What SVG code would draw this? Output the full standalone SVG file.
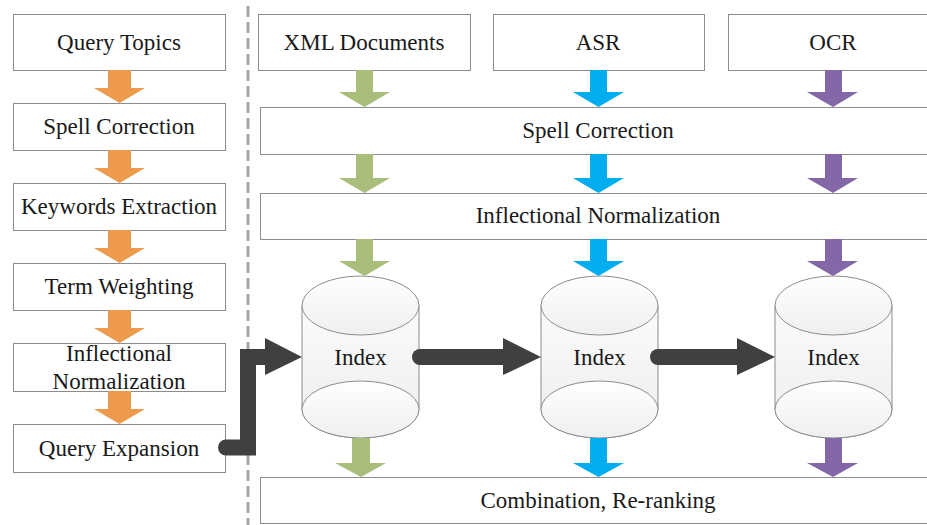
<svg xmlns="http://www.w3.org/2000/svg" width="927" height="525" viewBox="0 0 927 525">
  <defs>
    <linearGradient id="cylFill" x1="0" y1="0" x2="0" y2="1">
      <stop offset="0" stop-color="#fbfbfb"/>
      <stop offset="1" stop-color="#ececec"/>
    </linearGradient>
    <linearGradient id="capFill" x1="0" y1="0" x2="0" y2="1">
      <stop offset="0" stop-color="#ffffff"/>
      <stop offset="1" stop-color="#efefef"/>
    </linearGradient>
  </defs>
  <style>
    .box { fill: #ffffff; stroke: #8c8c8c; stroke-width: 1; }
    .lbl { font-family: Liberation Serif, Times New Roman, Tinos, Noto Serif, DejaVu Serif, serif; font-size: 23px; fill: #1a1a1a; text-anchor: middle; }
    .cyl { fill: url(#cylFill); stroke: #8c8c8c; stroke-width: 1; }
    .cap { fill: url(#capFill); stroke: #8c8c8c; stroke-width: 1; }
    .orange { fill: #ee9a4d; }
    .green { fill: #a9be7b; }
    .blue { fill: #00aeef; }
    .purple { fill: #8467a6; }
    .flow { fill: none; stroke: #404040; stroke-width: 16; stroke-linecap: round; stroke-linejoin: miter; }
    .head { fill: #404040; }
    .divider { stroke: #a6a6a6; stroke-width: 3; stroke-dasharray: 11 5; }
  </style>

  <rect width="927" height="525" fill="#ffffff"/>

  <!-- divider between query side and document side -->
  <line class="divider" x1="248" y1="6" x2="248" y2="525"/>

  <!-- query processing chain -->
  <g id="query-topics"><rect class="box" x="13.5" y="14.5" width="212" height="56"/><text class="lbl" x="119" y="50">Query Topics</text></g>
  <g id="q-spell-correction"><rect class="box" x="13.5" y="103.5" width="212" height="47"/><text class="lbl" x="119" y="134">Spell Correction</text></g>
  <g id="keywords-extraction"><rect class="box" x="13.5" y="183.5" width="212" height="47"/><text class="lbl" x="119" y="214">Keywords Extraction</text></g>
  <g id="term-weighting"><rect class="box" x="13.5" y="263.5" width="212" height="47"/><text class="lbl" x="119" y="294">Term Weighting</text></g>
  <g id="q-inflectional-normalization"><rect class="box" x="13.5" y="343.5" width="212" height="48"/><text class="lbl" x="119" y="361">Inflectional</text><text class="lbl" x="119" y="389">Normalization</text></g>
  <g id="query-expansion"><rect class="box" x="13.5" y="424.5" width="212" height="48"/><text class="lbl" x="119" y="456">Query Expansion</text></g>

  <!-- document sources -->
  <g id="xml-documents"><rect class="box" x="258.5" y="14.5" width="212" height="56"/><text class="lbl" x="364" y="50">XML Documents</text></g>
  <g id="asr"><rect class="box" x="493.5" y="14.5" width="211" height="56"/><text class="lbl" x="598" y="50">ASR</text></g>
  <g id="ocr"><rect class="box" x="728.5" y="14.5" width="210" height="56"/><text class="lbl" x="833" y="50">OCR</text></g>

  <!-- shared document stages -->
  <g id="d-spell-correction"><rect class="box" x="260.5" y="107.5" width="680" height="47"/><text class="lbl" x="598" y="138">Spell Correction</text></g>
  <g id="d-inflectional-normalization"><rect class="box" x="260.5" y="193.5" width="680" height="46"/><text class="lbl" x="598" y="223">Inflectional Normalization</text></g>
  <g id="combination"><rect class="box" x="260.5" y="477.5" width="680" height="46"/><text class="lbl" x="598" y="508">Combination, Re-ranking</text></g>

  <!-- indexes -->
  <g id="index-xml">
    <path class="cyl" d="M 302 305.5 V 409.5 A 58.5 28.5 0 0 0 419 409.5 V 305.5 Z"/>
    <ellipse class="cap" cx="360.5" cy="409.5" rx="58.5" ry="28.5"/>
    <ellipse class="cap" cx="360.5" cy="305.5" rx="58.5" ry="29.5"/>
    <text class="lbl" x="360.5" y="365">Index</text>
  </g>
  <g id="index-asr">
    <path class="cyl" d="M 541 305.5 V 409.5 A 58.5 28.5 0 0 0 658 409.5 V 305.5 Z"/>
    <ellipse class="cap" cx="599.5" cy="409.5" rx="58.5" ry="28.5"/>
    <ellipse class="cap" cx="599.5" cy="305.5" rx="58.5" ry="29.5"/>
    <text class="lbl" x="599.5" y="365">Index</text>
  </g>
  <g id="index-ocr">
    <path class="cyl" d="M 775 305.5 V 409.5 A 58.5 28.5 0 0 0 892 409.5 V 305.5 Z"/>
    <ellipse class="cap" cx="833.5" cy="409.5" rx="58.5" ry="28.5"/>
    <ellipse class="cap" cx="833.5" cy="305.5" rx="58.5" ry="29.5"/>
    <text class="lbl" x="833.5" y="365">Index</text>
  </g>

  <g id="connectors">
    <!-- query chain block arrows -->
    <g class="orange">
      <polygon points="108,70 131,70 131,88 145,88 119.5,103 94,88 108,88"/>
      <polygon points="108,150 131,150 131,168 145,168 119.5,183 94,168 108,168"/>
      <polygon points="108,230 131,230 131,248 145,248 119.5,263 94,248 108,248"/>
      <polygon points="108,310 131,310 131,328 145,328 119.5,343 94,328 108,328"/>
      <polygon points="108,391 131,391 131,409 145,409 119.5,424 94,409 108,409"/>
    </g>
    <!-- XML document flow -->
    <g class="green">
      <polygon points="356,70 373,70 373,92 390,92 364.5,107 339,92 356,92"/>
      <polygon points="356,154 373,154 373,178 390,178 364.5,193 339,178 356,178"/>
      <polygon points="356,239 373,239 373,261 390,261 364.5,276 339,261 356,261"/>
      <polygon points="352,438 370,438 370,463 386,463 361,477 335,463 352,463"/>
    </g>
    <!-- ASR flow -->
    <g class="blue">
      <polygon points="590,70 607,70 607,92 624,92 598.5,107 573,92 590,92"/>
      <polygon points="590,154 607,154 607,178 624,178 598.5,193 573,178 590,178"/>
      <polygon points="590,239 607,239 607,261 624,261 598.5,276 573,261 590,261"/>
      <polygon points="590,438 607,438 607,463 624,463 598.5,477 573,463 590,463"/>
    </g>
    <!-- OCR flow -->
    <g class="purple">
      <polygon points="825,70 842,70 842,92 858,92 833,107 807,92 825,92"/>
      <polygon points="825,154 842,154 842,178 858,178 833,193 807,178 825,178"/>
      <polygon points="825,239 842,239 842,261 858,261 833,276 807,261 825,261"/>
      <polygon points="825,438 842,438 842,463 858,463 833,477 807,463 825,463"/>
    </g>
    <!-- expanded query into the indexes -->
    <path class="flow" d="M 226 447.5 H 248 V 357 H 268"/>
    <polygon class="head" points="265,338 302,357 265,375"/>
    <path class="flow" d="M 420 357 H 506"/>
    <polygon class="head" points="503,338 541,357 503,375"/>
    <path class="flow" d="M 658 357 H 740"/>
    <polygon class="head" points="737,338 775,357 737,375"/>
  </g>
</svg>
